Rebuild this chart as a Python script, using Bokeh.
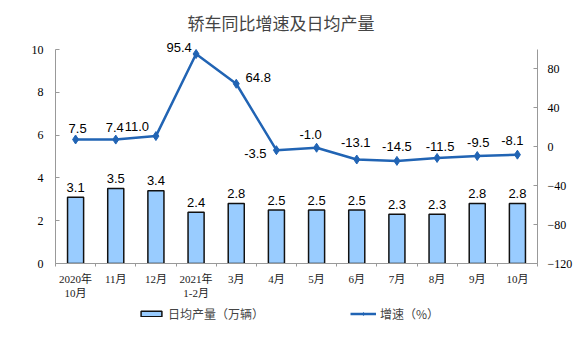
import numpy as np
from bokeh.plotting import figure
from bokeh.layouts import column
from bokeh.models import (ColumnDataSource, Range1d, LinearAxis, FixedTicker,
                          Legend, LegendItem, LabelSet)
from bokeh.core.properties import value
from bokeh.embed import file_html
from bokeh.resources import INLINE

# ---- data ----
categories = ["2020年\n10月", "11月", "12月", "2021年\n1-2月", "3月", "4月",
              "5月", "6月", "7月", "8月", "9月", "10月"]
output = [3.1, 3.5, 3.4, 2.4, 2.8, 2.5, 2.5, 2.5, 2.3, 2.3, 2.8, 2.8]
growth = [7.5, 7.4, 11.0, 95.4, 64.8, -3.5, -1.0, -13.1, -14.5, -11.5, -9.5, -8.1]
left_ticks = [0, 2, 4, 6, 8, 10]
right_ticks = [-120, -80, -40, 0, 40, 80]

# label nudges (pixels) for growth labels
g_dx = [2, -1, -19, -17, 22, -21, -6, -1, 0, 3, 1, -5]
g_dy = [11, 12, 10, 6, 6, -3, 13, 17, 14, 11, 14, 14]

BAR_FILL = "#99CCFF"
BAR_LINE = "#111111"
LINE_COL = "#2164B4"

n = len(categories)
xs = np.arange(n) + 0.5

p = figure(frame_width=482, frame_height=224, output_backend="svg",
           toolbar_location=None,
           x_range=Range1d(0, n), y_range=Range1d(0, 10.47),
           min_border_left=55, min_border_right=38, min_border_top=39,
           min_border_bottom=37)
p.extra_y_ranges = {"right": Range1d(-120, 110.3)}
p.grid.visible = False
p.outline_line_color = None
p.background_fill_color = "white"

p.title.text = "轿车同比增速及日均产量"
p.title.align = "left"
p.title.offset = 132
p.title.text_font = "Noto Sans CJK SC"
p.title.text_font_size = "17px"
p.title.text_font_style = "normal"
p.title.standoff = 10

bar_src = ColumnDataSource(dict(x=xs, top=output,
                                lab=[f"{v:.1f}" for v in output]))
bars = p.vbar(x="x", top="top", width=0.4, source=bar_src,
              fill_color=BAR_FILL, line_color=BAR_LINE, line_width=1.5)
p.add_layout(LabelSet(x="x", y="top", text="lab", source=bar_src, y_offset=10,
                      text_align="center", text_baseline="middle",
                      text_font=value("Liberation Sans"), text_font_size="13px",
                      text_color="#000000"))

line_src = ColumnDataSource(dict(x=xs, y=growth,
                                 lab=[f"{v:.1f}" for v in growth],
                                 dx=g_dx, dy=g_dy))
p.line(x="x", y="y", source=line_src, y_range_name="right",
       line_color=LINE_COL, line_width=2.5)
p.scatter(x="x", y="y", source=line_src, y_range_name="right",
          marker="diamond", size=9, fill_color=LINE_COL, line_color=LINE_COL)
p.add_layout(LabelSet(x="x", y="y", text="lab", source=line_src,
                      y_range_name="right", x_offset="dx", y_offset="dy",
                      text_align="center", text_baseline="middle",
                      text_font=value("Liberation Sans"), text_font_size="13px",
                      text_color="#000000"))

# axes
xa = p.xaxis[0]
xa.ticker = FixedTicker(ticks=list(xs), minor_ticks=list(range(n + 1)))
xa.major_label_overrides = {float(x): c for x, c in zip(xs, categories)}
xa.major_tick_in = 0
xa.major_tick_out = 0
xa.minor_tick_in = 0
xa.minor_tick_out = 3
xa.minor_tick_line_color = "#999999"
xa.axis_line_color = "#999999"
xa.major_label_text_font = "Liberation Serif, Noto Sans CJK SC"
xa.major_label_text_font_size = "11px"
xa.major_label_text_color = "#222222"
xa.major_label_standoff = 6

ya = p.yaxis[0]
ya.ticker = FixedTicker(ticks=left_ticks)
ya.bounds = (0, 10)
ya.major_tick_in = 4
ya.major_tick_out = 0
ya.minor_tick_line_color = None
ya.axis_line_color = "#999999"
ya.major_tick_line_color = "#999999"
ya.major_label_text_font = "Liberation Serif"
ya.major_label_text_font_size = "12px"
ya.major_label_text_color = "#000000"
ya.major_label_standoff = 12

ra = LinearAxis(y_range_name="right", ticker=FixedTicker(ticks=right_ticks),
                bounds=(-120, 100))
ra.major_tick_in = 4
ra.major_tick_out = 0
ra.minor_tick_line_color = None
ra.axis_line_color = "#999999"
ra.major_tick_line_color = "#999999"
ra.major_label_text_font = "Liberation Serif"
ra.major_label_text_font_size = "12px"
ra.major_label_text_color = "#000000"
ra.major_label_standoff = 10
p.add_layout(ra, "right")

# ---- legend strip (swatch renderers sit outside the visible range) ----
q = figure(width=575, height=57, output_backend="svg", toolbar_location=None,
           x_range=Range1d(0, 1), y_range=Range1d(0, 1),
           min_border=0, x_axis_type=None, y_axis_type=None)
q.grid.visible = False
q.outline_line_color = None
hidden = ColumnDataSource(dict(x=[-5, -6], y=[-5, -6], top=[-5, -6]))
lb = q.vbar(x="x", top="top", width=0.4, source=hidden,
            fill_color=BAR_FILL, line_color=BAR_LINE, line_width=1.5)
ll = q.line(x="x", y="y", source=hidden, line_color=LINE_COL, line_width=2.5)
lm = q.scatter(x="x", y="y", source=hidden, marker="diamond", size=7,
               fill_color=LINE_COL, line_color=LINE_COL)
legend = Legend(items=[LegendItem(label="日均产量（万辆）", renderers=[lb]),
                       LegendItem(label="增速（%）", renderers=[ll, lm])],
                orientation="horizontal", location=(83, 36),
                glyph_width=26, glyph_height=7, spacing=86, padding=0,
                margin=0, label_standoff=4,
                label_text_font="Noto Sans CJK SC", label_text_font_size="12px",
                border_line_color=None, background_fill_alpha=0)
q.add_layout(legend, "center")

layout = column(p, q, spacing=0)
open("out.html", "w").write(file_html(layout, INLINE))
